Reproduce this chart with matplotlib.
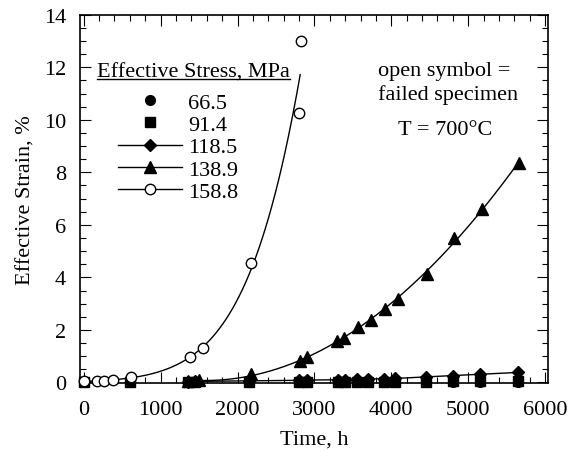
import numpy as np
import matplotlib.pyplot as plt
from matplotlib.lines import Line2D
from matplotlib.ticker import MultipleLocator

plt.rcParams['font.family'] = ['Liberation Serif', 'DejaVu Serif']

# creep data, time in h, effective strain in %
t_665 = [0, 600, 1350, 1450, 2150, 2800, 2900, 3300, 3400, 3550, 3700, 3900, 4050, 4450, 4800, 5150, 5650]
e_665 = [0.01, 0.01, 0.01, 0.01, 0.01, 0.01, 0.01, 0.01, 0.01, 0.01, 0.01, 0.01, 0.01, 0.01, 0.01, 0.01, 0.01]

t_914 = [0, 600, 1350, 1450, 2150, 2800, 2900, 3300, 3400, 3550, 3700, 3900, 4050, 4450, 4800, 5150, 5650]
e_914 = [0.02, 0.02, 0.02, 0.02, 0.02, 0.03, 0.03, 0.03, 0.03, 0.03, 0.03, 0.03, 0.03, 0.03, 0.04, 0.04, 0.04]

t_1185 = [1350, 1450, 2150, 2800, 2900, 3300, 3400, 3550, 3700, 3900, 4050, 4450, 4800, 5150, 5650]
e_1185 = [0.03, 0.04, 0.06, 0.08, 0.09, 0.10, 0.11, 0.12, 0.13, 0.14, 0.15, 0.21, 0.26, 0.31, 0.38]

t_1389 = [1350, 1500, 2170, 2817, 2903, 3290, 3390, 3561, 3729, 3923, 4086, 4465, 4809, 5183, 5665]
e_1389 = [0.05, 0.10, 0.32, 0.82, 0.95, 1.56, 1.71, 2.12, 2.38, 2.79, 3.19, 4.12, 5.51, 6.62, 8.37]

t_1588 = [0, 170, 260, 380, 620, 1377, 1548, 2170, 2805, 2830]
e_1588 = [0.05, 0.05, 0.05, 0.10, 0.22, 0.95, 1.30, 4.55, 10.27, 12.99]

stress_labels = ['66.5', '91.4', '118.5', '138.9', '158.8']

FS = 16

fig, ax = plt.subplots(figsize=(5.87, 4.52), dpi=100)
fig.subplots_adjust(left=0.136, right=0.934, bottom=0.150, top=0.965)

# fitted trend curves
p_tri = np.polyfit(t_1389, e_1389, 3)
tt = np.linspace(1400, t_1389[-1], 200)
ax.plot(tt, np.polyval(p_tri, tt), color='black', lw=1.0, zorder=2)

p_circ = np.polyfit(t_1588, np.log(e_1588), 2)
tc = np.linspace(0, 2815, 200)
ax.plot(tc, np.exp(np.polyval(p_circ, tc)), color='black', lw=1.0, zorder=2)

ax.plot(t_1185, e_1185, color='black', lw=1.0, zorder=2)

ms_kw = dict(color='black', linestyle='none', clip_on=False)
ax.plot(t_665, e_665, marker='o', ms=7, zorder=3, **ms_kw)
ax.plot(t_914, e_914, marker='s', ms=7, zorder=3, **ms_kw)
ax.plot(t_1185, e_1185, marker='D', ms=6.5, zorder=4, **ms_kw)
ax.plot(t_1389, e_1389, marker='^', ms=9, zorder=4, **ms_kw)
ax.plot(t_1588, e_1588, marker='o', ms=7.5, mfc='white', mec='black', mew=1.0,
        linestyle='none', clip_on=False, zorder=5)

ax.set_xlim(-50, 6040)
ax.set_ylim(-0.03, 14)
ax.xaxis.set_major_locator(MultipleLocator(1000))
ax.xaxis.set_minor_locator(MultipleLocator(200))
ax.yaxis.set_major_locator(MultipleLocator(2))
ax.yaxis.set_minor_locator(MultipleLocator(0.5))
ax.tick_params(which='both', direction='in', top=True, right=True, width=0.8, labelsize=FS)
ax.tick_params(which='major', length=8)
ax.tick_params(which='minor', length=4)
ax.tick_params(axis='x', which='major', pad=12)
ax.tick_params(axis='y', which='major', pad=10)
for sp in ax.spines.values():
    sp.set_linewidth(1.2)

ax.set_xlabel('Time, h', fontsize=FS, labelpad=8)
ax.set_ylabel('Effective Strain, %', fontsize=FS, labelpad=6)

# legend
handles = [
    Line2D([], [], color='black', marker='o', ms=7, linestyle='none'),
    Line2D([], [], color='black', marker='s', ms=7, linestyle='none'),
    Line2D([], [], color='black', marker='D', ms=6.5, lw=1.0),
    Line2D([], [], color='black', marker='^', ms=9, lw=1.0),
    Line2D([], [], color='black', marker='o', ms=7.5, mfc='white', mec='black', lw=1.0),
]
ax.legend(handles, stress_labels, loc='upper left', bbox_to_anchor=(0.081, 0.79),
          frameon=False, fontsize=FS, borderpad=0, borderaxespad=0,
          handlelength=2.9, handletextpad=0.27, labelspacing=0.08)

title = ax.text(0.036, 0.832, 'Effective Stress, MPa', transform=ax.transAxes,
                fontsize=FS, va='baseline', ha='left')
fig.canvas.draw()
bb = title.get_window_extent().transformed(ax.transAxes.inverted())
ax.plot([bb.x0, bb.x1], [0.826, 0.826], transform=ax.transAxes, color='black', lw=1.0, clip_on=False)

ax.text(0.637, 0.848, 'open symbol =', transform=ax.transAxes, fontsize=FS, va='center', ha='left')
ax.text(0.637, 0.785, 'failed specimen', transform=ax.transAxes, fontsize=FS, va='center', ha='left')
ax.text(0.78, 0.69, 'T = 700°C', transform=ax.transAxes, fontsize=FS, va='center', ha='center')

fig.savefig('out.png', dpi=100)
